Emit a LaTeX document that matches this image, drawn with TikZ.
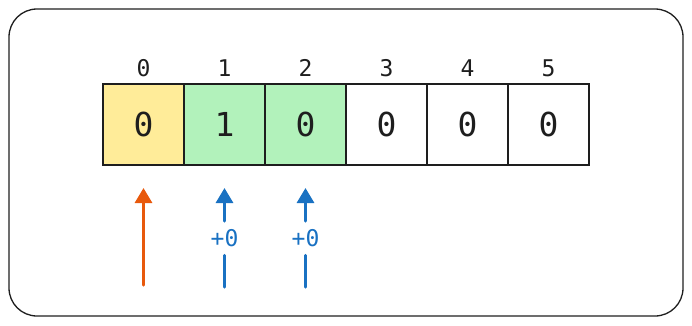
\documentclass[tikz,border=0pt]{standalone}
\usepackage{fontspec}
\setmonofont{DejaVu Sans Mono}
\usetikzlibrary{arrows.meta, positioning}
\definecolor{ink}{HTML}{1E1E1E}
\definecolor{cellyellow}{HTML}{FFEC99}
\definecolor{cellgreen}{HTML}{B2F2BB}
\definecolor{ptrorange}{HTML}{E8590C}
\definecolor{ptrblue}{HTML}{1971C2}

\begin{document}
\begin{tikzpicture}[x=1pt, y=-1pt,
    cell/.style={rectangle, draw=ink, line width=1.4pt, minimum width=81pt, minimum height=81pt,
        inner sep=0pt, outer sep=0pt, font=\ttfamily\fontsize{33}{33}\selectfont, text=ink},
    idx/.style={font=\ttfamily\fontsize{23}{23}\selectfont, text=ink},
    ptr/.style={line width=3pt, line cap=round, -{Triangle[length=15pt, width=17pt]}},
    gain/.style={font=\ttfamily\fontsize{23}{23}\selectfont, text=ptrblue, inner sep=0pt, minimum height=34pt}]
\useasboundingbox (0,0) rectangle (692,325);

% --- frame ---
\draw[ink, line width=1.3pt, rounded corners=28pt] (9,9) rectangle (683,316);

% --- array cells ---
\node[cell, fill=cellyellow] (c0) at (143.5,124.5) {0};
\node[cell, fill=cellgreen, right=0pt of c0] (c1) {1};
\node[cell, fill=cellgreen, right=0pt of c1] (c2) {0};
\node[cell, fill=white, right=0pt of c2] (c3) {0};
\node[cell, fill=white, right=0pt of c3] (c4) {0};
\node[cell, fill=white, right=0pt of c4] (c5) {0};

% --- indices ---
\foreach \i in {0,...,5}
    \node[idx, above=4pt of c\i] (i\i) {\i};

% --- pointers ---
\coordinate (t0) at ([yshift=-120pt]c0.south);
\draw[ptr, ptrorange, shorten >=23pt] (t0) -- (c0.south);

\node[gain, below=56pt of c1.south] (g1) {+0};
\node[gain, below=56pt of c2.south] (g2) {+0};
\coordinate (t1) at ([yshift=-122pt]c1.south);
\coordinate (t2) at ([yshift=-122pt]c2.south);
\draw[ptrblue, line width=3pt, line cap=round] (t1) -- (g1.south);
\draw[ptrblue, line width=3pt, line cap=round] (t2) -- (g2.south);
\draw[ptr, ptrblue, shorten >=23pt] (g1.north) -- (c1.south);
\draw[ptr, ptrblue, shorten >=23pt] (g2.north) -- (c2.south);

\end{tikzpicture}
\end{document}
